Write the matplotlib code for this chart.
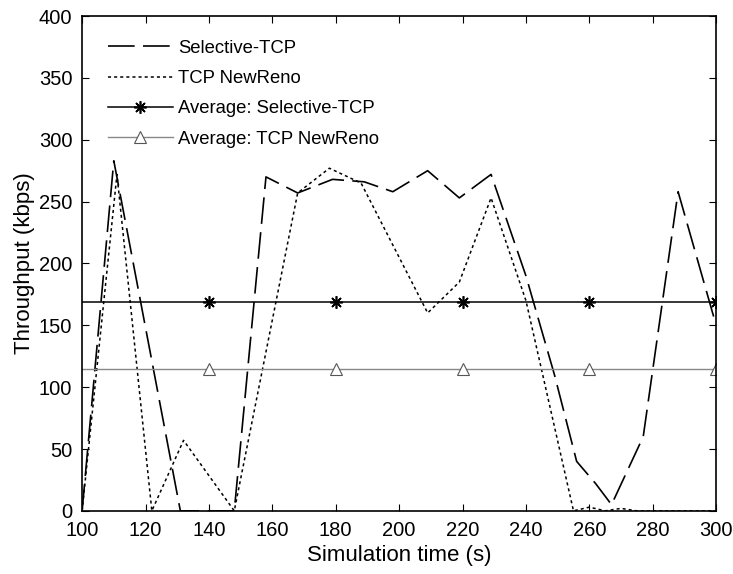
import matplotlib
matplotlib.use("Agg")
import matplotlib.pyplot as plt
from matplotlib.lines import Line2D

plt.rcParams['font.family'] = ['Liberation Sans', 'DejaVu Sans']

# Selective-TCP throughput
sel_t = [100, 110, 131, 148, 158, 168, 179, 189, 198, 209, 219, 229, 240, 249, 256, 262, 267, 277, 288, 300]
sel_v = [0, 283, 0, 0, 270, 257, 268, 266, 258, 275, 253, 272, 190, 110, 40, 22, 5, 60, 258, 150]

# TCP NewReno throughput
nr_t = [100, 111, 122, 132, 148, 168, 178, 188, 209, 219, 229, 240, 255, 260, 265, 270, 275, 300]
nr_v = [0, 272, 0, 57, 0, 257, 277, 265, 160, 185, 253, 170, 0, 3, 0, 2, 0, 0]

avg_sel = 169
avg_nr = 115
avg_marker_t = [140, 180, 220, 260, 300]

x_ticks = list(range(100, 301, 20))
y_ticks = list(range(0, 401, 50))

fig = plt.figure(figsize=(7.33, 5.74), dpi=100)
ax = fig.add_axes([0.112, 0.11, 0.865, 0.862])

sel_style = dict(color='black', lw=1.2, dashes=(16, 5))
nr_style = dict(color='black', lw=1.1, dashes=(2, 2))
avs_style = dict(color='black', lw=1.1, marker=(8, 2, 0), ms=9, mew=1.2)
avn_style = dict(color='#888888', lw=1.0, marker='^', mfc='white', mec='#555555', ms=9, mew=0.8)

ax.plot(sel_t, sel_v, **sel_style)
ax.plot(nr_t, nr_v, **nr_style)
ax.plot([100, 300], [avg_sel, avg_sel], color='black', lw=1.1)
ax.plot(avg_marker_t, [avg_sel] * len(avg_marker_t), ls='none', marker=(8, 2, 0),
        color='black', ms=9, mew=1.2)
ax.plot([100, 300], [avg_nr, avg_nr], color='#888888', lw=1.0)
ax.plot(avg_marker_t, [avg_nr] * len(avg_marker_t), ls='none', marker='^',
        mfc='white', mec='#555555', ms=9, mew=0.8)

handles = [Line2D([], [], **sel_style), Line2D([], [], **nr_style),
           Line2D([], [], **avs_style), Line2D([], [], **avn_style)]
labels = ['Selective-TCP', 'TCP NewReno', 'Average: Selective-TCP', 'Average: TCP NewReno']
ax.legend(handles, labels, loc='upper left', frameon=False, fontsize=13.3,
          handlelength=3.5, handletextpad=0.3, labelspacing=0.72,
          borderpad=0, borderaxespad=0, bbox_to_anchor=(0.041, 0.952))

ax.set_xlim(100, 300)
ax.set_ylim(0, 400)
ax.set_xticks(x_ticks)
ax.set_yticks(y_ticks)
ax.tick_params(direction='in', top=True, right=True, labelsize=14.5, length=5)
ax.tick_params(axis='x', pad=7)
ax.tick_params(axis='y', pad=7)
ax.set_xlabel('Simulation time (s)', fontsize=16, labelpad=4)
ax.set_ylabel('Throughput (kbps)', fontsize=16, labelpad=3)
for s in ax.spines.values():
    s.set_linewidth(1.2)

fig.savefig('out.png', dpi=100)
